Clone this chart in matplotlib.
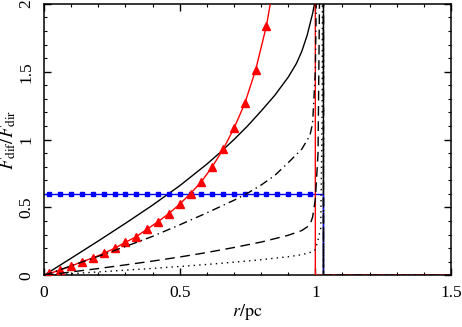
import matplotlib
matplotlib.use("Agg")
import matplotlib.pyplot as plt
from matplotlib.ticker import MultipleLocator

plt.rcParams['font.family'] = ['Liberation Serif', 'DejaVu Serif']
plt.rcParams['mathtext.fontset'] = 'stix'

# ---- data ----
solid_r = [0, 0.1, 0.2, 0.3, 0.4, 0.5, 0.6, 0.65, 0.7, 0.75, 0.8, 0.85, 0.9, 0.93, 0.95, 0.97, 0.99, 1.0, 1.03, 1.03, 1.5]
solid_y = [0, 0.126, 0.253, 0.383, 0.517, 0.66, 0.819, 0.907, 1.0, 1.10, 1.21, 1.325, 1.46, 1.56, 1.65, 1.77, 1.93, 2.03, 5.0, 0, 0]

dashdot_r = [0, 0.1, 0.2, 0.3, 0.4, 0.5, 0.6, 0.7, 0.75, 0.8, 0.85, 0.9, 0.95, 0.98, 0.99, 1.0, 1.01, 1.03, 1.03, 1.5]
dashdot_y = [0, 0.07, 0.14, 0.212, 0.287, 0.372, 0.46, 0.553, 0.605, 0.665, 0.735, 0.83, 0.93, 1.03, 1.12, 1.5, 3.0, 5.0, 0, 0]

dashed_r = [0, 0.1, 0.2, 0.3, 0.4, 0.5, 0.6, 0.7, 0.8, 0.85, 0.9, 0.95, 0.98, 0.99, 1.0, 1.01, 1.02, 1.03, 1.03, 1.5]
dashed_y = [0, 0.025, 0.05, 0.077, 0.105, 0.135, 0.168, 0.205, 0.245, 0.27, 0.295, 0.33, 0.37, 0.43, 0.56, 0.9, 3.0, 5.0, 0, 0]

dotted_r = [0, 0.1, 0.2, 0.3, 0.4, 0.5, 0.6, 0.7, 0.8, 0.9, 0.95, 0.99, 1.0, 1.01, 1.02, 1.025, 1.03, 1.03, 1.5]
dotted_y = [0, 0.012, 0.025, 0.038, 0.051, 0.065, 0.08, 0.097, 0.115, 0.137, 0.152, 0.174, 0.19, 0.26, 0.35, 1.2, 5.0, 0, 0]

red_r = [0, 0.02, 0.06, 0.10, 0.14, 0.18, 0.22, 0.26, 0.30, 0.34, 0.38, 0.42, 0.46, 0.50,
         0.54, 0.58, 0.62, 0.66, 0.70, 0.74, 0.78, 0.82, 0.86, 1.0, 1.0, 1.5]
red_y = [0, 0.014, 0.039, 0.068, 0.10, 0.128, 0.162, 0.199, 0.243, 0.285, 0.34, 0.395, 0.455, 0.524,
         0.603, 0.689, 0.80, 0.928, 1.083, 1.267, 1.513, 1.84, 2.3, 5.0, 0, 0]

blue_r = [0, 0.02, 0.06, 0.10, 0.14, 0.18, 0.22, 0.26, 0.30, 0.34, 0.38, 0.42, 0.46, 0.50,
          0.54, 0.58, 0.62, 0.66, 0.70, 0.74, 0.78, 0.82, 0.86, 0.90, 0.94, 0.98, 1.03, 1.03, 1.5]
blue_y = [0.6, 0.6, 0.6, 0.6, 0.6, 0.6, 0.6, 0.6, 0.6, 0.6, 0.6, 0.6, 0.6, 0.6,
          0.6, 0.6, 0.6, 0.6, 0.6, 0.6, 0.6, 0.6, 0.6, 0.6, 0.6, 0.6, 0.6, 0, 0]

x_ticks = [0, 0.5, 1, 1.5]
x_ticklabels = ['0', '0.5', '1', '1.5']
y_ticks = [0, 0.5, 1, 1.5, 2]
y_ticklabels = ['0', '0.5', '1', '1.5', '2']

fig = plt.figure(figsize=(4.62, 3.27), dpi=100)
ax = fig.add_axes([0.0952, 0.158, 0.8810, 0.830])

lw = 1.0
ax.plot(solid_r, solid_y, color='black', lw=lw, zorder=2)
ax.plot(blue_r, blue_y, color='#0000ff', lw=lw, marker='s', markersize=3.4,
        markevery=slice(1, 26), zorder=2.2)
ax.plot(red_r, red_y, color='#ff0000', lw=lw, marker='^', markersize=5.3,
        markevery=slice(1, 22), zorder=3)
ax.plot(dashdot_r, dashdot_y, color='black', lw=lw, dashes=(6, 3, 1, 3), zorder=4)
ax.plot(dashed_r, dashed_y, color='black', lw=lw, dashes=(7, 4), zorder=4)
ax.plot(dotted_r, dotted_y, color='black', lw=lw, dashes=(1, 3), zorder=4)

ax.set_xlim(0, 1.5)
ax.set_ylim(0, 2)
ax.set_xticks(x_ticks)
ax.set_xticklabels(x_ticklabels)
ax.set_yticks(y_ticks)
ax.set_yticklabels(y_ticklabels, rotation=90, va='center')
ax.xaxis.set_minor_locator(MultipleLocator(0.1))
ax.yaxis.set_minor_locator(MultipleLocator(0.1))
ax.tick_params(which='both', direction='in', top=True, right=True, labelsize=12.5)
ax.tick_params(which='major', length=5, width=1.0, pad=7)
ax.tick_params(which='minor', length=2.5, width=0.8)
for s in ax.spines.values():
    s.set_linewidth(1.1)

ax.set_xlabel(r'$r/{\rm pc}$', fontsize=13)
ax.xaxis.set_label_coords(0.5, -0.1)
ax.set_ylabel(r'$F_{\rm dif}/F_{\rm dir}$', fontsize=13.5)
ax.yaxis.set_label_coords(-0.063, 0.5)

fig.savefig('out.png', dpi=100)
